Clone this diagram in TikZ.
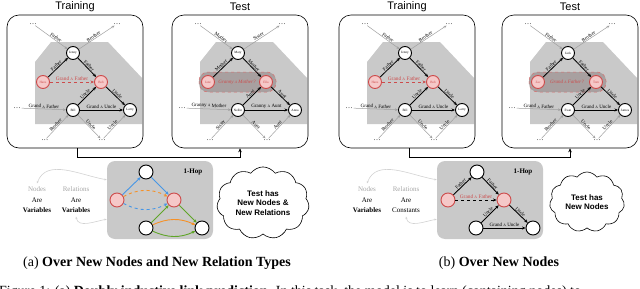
\documentclass[tikz,border=0pt]{standalone}
\usepackage{fontspec}
\setmainfont{Liberation Serif}
\newfontfamily\titlefont{Liberation Sans}
\usetikzlibrary{positioning,arrows.meta,shapes.symbols}

\definecolor{regiongray}{gray}{0.79}
\definecolor{qpink}{RGB}{245,200,200}
\definecolor{qred}{RGB}{205,75,75}
\definecolor{zonefill}{RGB}{168,160,160}
\definecolor{relblue}{RGB}{70,150,230}
\definecolor{relorange}{RGB}{245,145,40}
\definecolor{relgreen}{RGB}{95,165,40}

\newcommand{\andA}{\scalebox{0.72}{A}}
\newcommand{\setnames}[5]{\def\nTop{#1}\def\nLeft{#2}\def\nRight{#3}\def\nBot{#4}\def\nCorner{#5}}
\newcommand{\setrels}[5]{\def\rPar{#1}\def\rSib{#2}\def\rUnc{#3}\def\rGP{#4}\def\rGU{#5}}

\tikzset{
  panelbox/.style={draw, rounded corners=12pt, line width=0.6pt, minimum width=136pt, minimum height=133pt, inner sep=0pt},
  titlelab/.style={font=\titlefont\fontsize{11}{12}\selectfont},
  ent/.style={circle, draw, line width=0.9pt, fill=white, minimum size=13pt, inner sep=0pt, font=\fontsize{3.3}{4}\selectfont},
  qent/.style={ent, draw=qred, fill=qpink, text=qred},
  dots/.style={inner sep=1pt, font=\fontsize{7}{7}\selectfont},
  inrel/.style={-{Stealth[length=3.5pt,width=3pt]}, line width=0.8pt},
  outrel/.style={-{Stealth[length=3pt,width=2.6pt]}, draw=gray!75, line width=0.5pt},
  rlab/.style={sloped, above, inner sep=0.6pt, font=\fontsize{5}{5}\selectfont},
  qrel/.style={-{Stealth[length=3.5pt,width=3pt]}, qred, dashed, line width=0.8pt},
  qlab/.style={above, inner sep=0.8pt, text=qred, font=\fontsize{5.3}{5.5}\selectfont},
  qzone/.style={draw=qred!80, dashed, fill=zonefill, rounded corners=9pt, line width=0.5pt},
  qtext/.style={text=qred, inner sep=0pt, font=\itshape\fontsize{5}{5.5}\selectfont},
  link/.style={-{Stealth[length=4pt,width=3.5pt]}, line width=0.8pt},
  hopbox/.style={fill=regiongray, rounded corners=8pt, minimum width=106pt, minimum height=78pt, inner sep=0pt},
  hent/.style={circle, draw, line width=0.9pt, fill=white, minimum size=14pt, inner sep=0pt},
  hq/.style={hent, draw=qred, fill=qpink},
  hopedge/.style={-{Stealth[length=3.5pt,width=3pt]}, line width=0.9pt},
  sidetext/.style={align=center, font=\fontsize{7}{10.5}\selectfont},
  sidearc/.style={{Stealth[length=2.5pt]}-{Stealth[length=2.5pt]}, draw=gray!35, line width=0.6pt},
  thought/.style={cloud, draw, cloud puffs=11, cloud puff arc=110, aspect=1.4, line width=0.6pt, align=center, font=\titlefont\bfseries\fontsize{8}{9.5}\selectfont},
  caption/.style={font=\fontsize{14}{15}\selectfont}
}

% one family graph inside a rounded panel
\newcommand{\famgraph}[4]{% #1 left edge, #2 prefix, #3 title, #4 test?
  \begin{scope}[xshift=#1pt]
    \fill[regiongray] (28,62) -- (44,42) -- (101,42) -- (135,78) -- (135,124) -- (28,124) -- cycle;
    \node[panelbox] (#2box) at (68,81.5) {};
    \node[titlelab] (#2title) at (68,7) {#3};
    \ifnum#4=1
      \draw[qzone] (27,72) rectangle (104,92);
    \fi
    \node[ent] (#2top) at (66,53) {\nTop};
    \node[qent] (#2left) at (36,82) {\nLeft};
    \node[qent] (#2right) at (94,82) {\nRight};
    \node[ent] (#2bot) at (66,110) {\nBot};
    \node[ent] (#2corner) at (123,110) {\nCorner};
    \node[dots] (#2tl) at (26,24) {\dots};
    \node[dots] (#2tr) at (110,24) {\dots};
    \node[dots] (#2l) at (10,108) {\dots};
    \node[dots] (#2bl) at (38,140) {\dots};
    \node[dots] (#2br) at (95,140) {\dots};
    % edges leaving the 1-hop zone
    \draw[outrel] (#2tl) -- node[rlab, pos=0.6] {\rPar} (#2top);
    \draw[outrel] (#2top) -- node[rlab, pos=0.45] {\rSib} (#2tr);
    \draw[outrel] (#2l) -- node[rlab] {\rGP} (#2bot);
    \draw[outrel] (#2bl) -- node[rlab] {\rSib} (#2bot);
    \draw[outrel] (#2bot) -- node[rlab] {\rUnc} (#2br);
    \draw[outrel] (#2br) -- node[rlab] {\rUnc} (#2corner);
    % edges inside it
    \draw[inrel] (#2left) -- node[rlab] {\rPar} (#2top);
    \draw[inrel] (#2top) -- node[rlab] {\rPar} (#2right);
    \draw[inrel] (#2bot) -- node[rlab] {\rUnc} (#2right);
    \draw[inrel] (#2right) -- node[rlab] {\rUnc} (#2corner);
    \draw[inrel] (#2bot) -- node[rlab] {\rGU} (#2corner);
    \ifnum#4=1
      \node[qtext] (#2ask) at (65,82) {\rGP?};
    \else
      \draw[qrel] (#2left) -- node[qlab] {\rGP} (#2right);
    \fi
  \end{scope}}

\begin{document}
\begin{tikzpicture}[x=1pt, y=-1pt]
\useasboundingbox (0,0) rectangle (640,289);
\clip (0,0) rectangle (640,289);

% (a) new nodes and new relations
\setnames{Jenny}{Hans}{Bob}{Bill}{Larry}
\setrels{Father}{Brother}{Uncle}{Grand \andA{} Father}{Grand \andA{} Uncle}
\famgraph{7}{trA}{Training}{0}
\setnames{Mary}{Jane}{Ella}{Nellie}{Anna}
\setrels{Mother}{Sister}{Aunt}{Granny \andA{} Mother}{Granny \andA{} Aunt}
\famgraph{172}{teA}{Test}{1}
\draw[link] ([xshift=2pt]trAbox.south) -- ++(0,9) -| (teAbox.south);

\node[hopbox] (hopA) at (160,200) {};
\node[font=\bfseries\fontsize{7}{8}\selectfont] (hopAlab) at (193,172) {1-Hop};
\node[hent] (hA1) at (146,172) {};
\node[hq] (hA2) at (117,200) {};
\node[hq] (hA3) at (174,200) {};
\node[hent] (hA4) at (146,228) {};
\node[hent] (hA5) at (202,228) {};
\draw[hopedge, relblue] (hA2) -- (hA1);
\draw[hopedge, relblue] (hA1) -- (hA3);
\draw[hopedge, relorange, dashed] (hA2) to[bend left=28] (hA3);
\draw[hopedge, relblue, dashed] (hA2) to[bend right=28] (hA3);
\draw[hopedge, relgreen] (hA4) -- (hA3);
\draw[hopedge, relgreen] (hA3) -- (hA5);
\draw[hopedge, relorange] (hA4) to[bend left=25] (hA5);
\draw[hopedge, relgreen] (hA4) to[bend right=25] (hA5);

\node[sidetext] (nodesA) at (37,200) {\textcolor{gray!70}{Nodes}\\Are\\\textbf{Variables}};
\node[sidetext] (relsA) at (76,200) {\textcolor{gray!70}{Relations}\\Are\\\textbf{Variables}};
\coordinate (inA1) at ([yshift=-19pt]hopA.north west);
\coordinate (inA2) at ([yshift=20pt]hopA.south west);
\draw[sidearc] (nodesA.north) to[out=70, in=170] (inA1);
\draw[sidearc] (relsA.south) to[out=-80, in=190] (inA2);

\node[thought, minimum width=78pt, minimum height=58pt] (cloudA) at (263,203) {Test has\\New Nodes \&\\New Relations};
\node[caption] (capA) at (157,263) {(a) \textbf{Over New Nodes and New Relation Types}};

% (b) new nodes only
\setnames{Jenny}{Hans}{Bob}{Bill}{Larry}
\setrels{Father}{Brother}{Uncle}{Grand \andA{} Father}{Grand \andA{} Uncle}
\famgraph{339}{trB}{Training}{0}
\setnames{Jack}{Zac}{Tom}{Evan}{James}
\famgraph{502}{teB}{Test}{1}
\draw[link] ([xshift=2pt]trBbox.south) -- ++(0,9) -| (teBbox.south);

\node[hopbox] (hopB) at (490,200) {};
\node[font=\bfseries\fontsize{7}{8}\selectfont] (hopBlab) at (523,172) {1-Hop};
\node[hent] (hB1) at (477,172) {};
\node[hq] (hB2) at (448,200) {};
\node[hq] (hB3) at (504,200) {};
\node[hent] (hB4) at (476,228) {};
\node[hent] (hB5) at (533,228) {};
\draw[hopedge] (hB2) -- node[rlab] {Father} (hB1);
\draw[hopedge] (hB1) -- node[rlab] {Father} (hB3);
\draw[hopedge, dashed] (hB2) -- node[qlab] {Grand \andA{} Father} (hB3);
\draw[hopedge] (hB4) -- node[rlab] {Uncle} (hB3);
\draw[hopedge] (hB3) -- node[rlab] {Uncle} (hB5);
\draw[hopedge] (hB4) -- node[rlab] {Grand \andA{} Uncle} (hB5);

\node[sidetext] (nodesB) at (367,200) {\textcolor{gray!70}{Nodes}\\Are\\\textbf{Variables}};
\node[sidetext] (relsB) at (406,200) {\textcolor{gray!70}{Relations}\\Are\\Constants};
\coordinate (inB1) at ([yshift=-19pt]hopB.north west);
\coordinate (inB2) at ([yshift=20pt]hopB.south west);
\draw[sidearc] (nodesB.north) to[out=70, in=170] (inB1);
\draw[sidearc] (relsB.south) to[out=-80, in=190] (inB2);

\node[thought, minimum width=70pt, minimum height=60pt] (cloudB) at (587,202) {Test has\\New Nodes};
\node[caption] (capB) at (499,263) {(b) \textbf{Over New Nodes}};

% figure caption, cut by the page edge
\node[caption, anchor=base west, inner sep=0pt] (figcap) at (-1,295) {Figure 1: (a) \textbf{Doubly inductive link prediction.} In this task, the model is to learn (containing nodes) to};
\end{tikzpicture}
\end{document}
